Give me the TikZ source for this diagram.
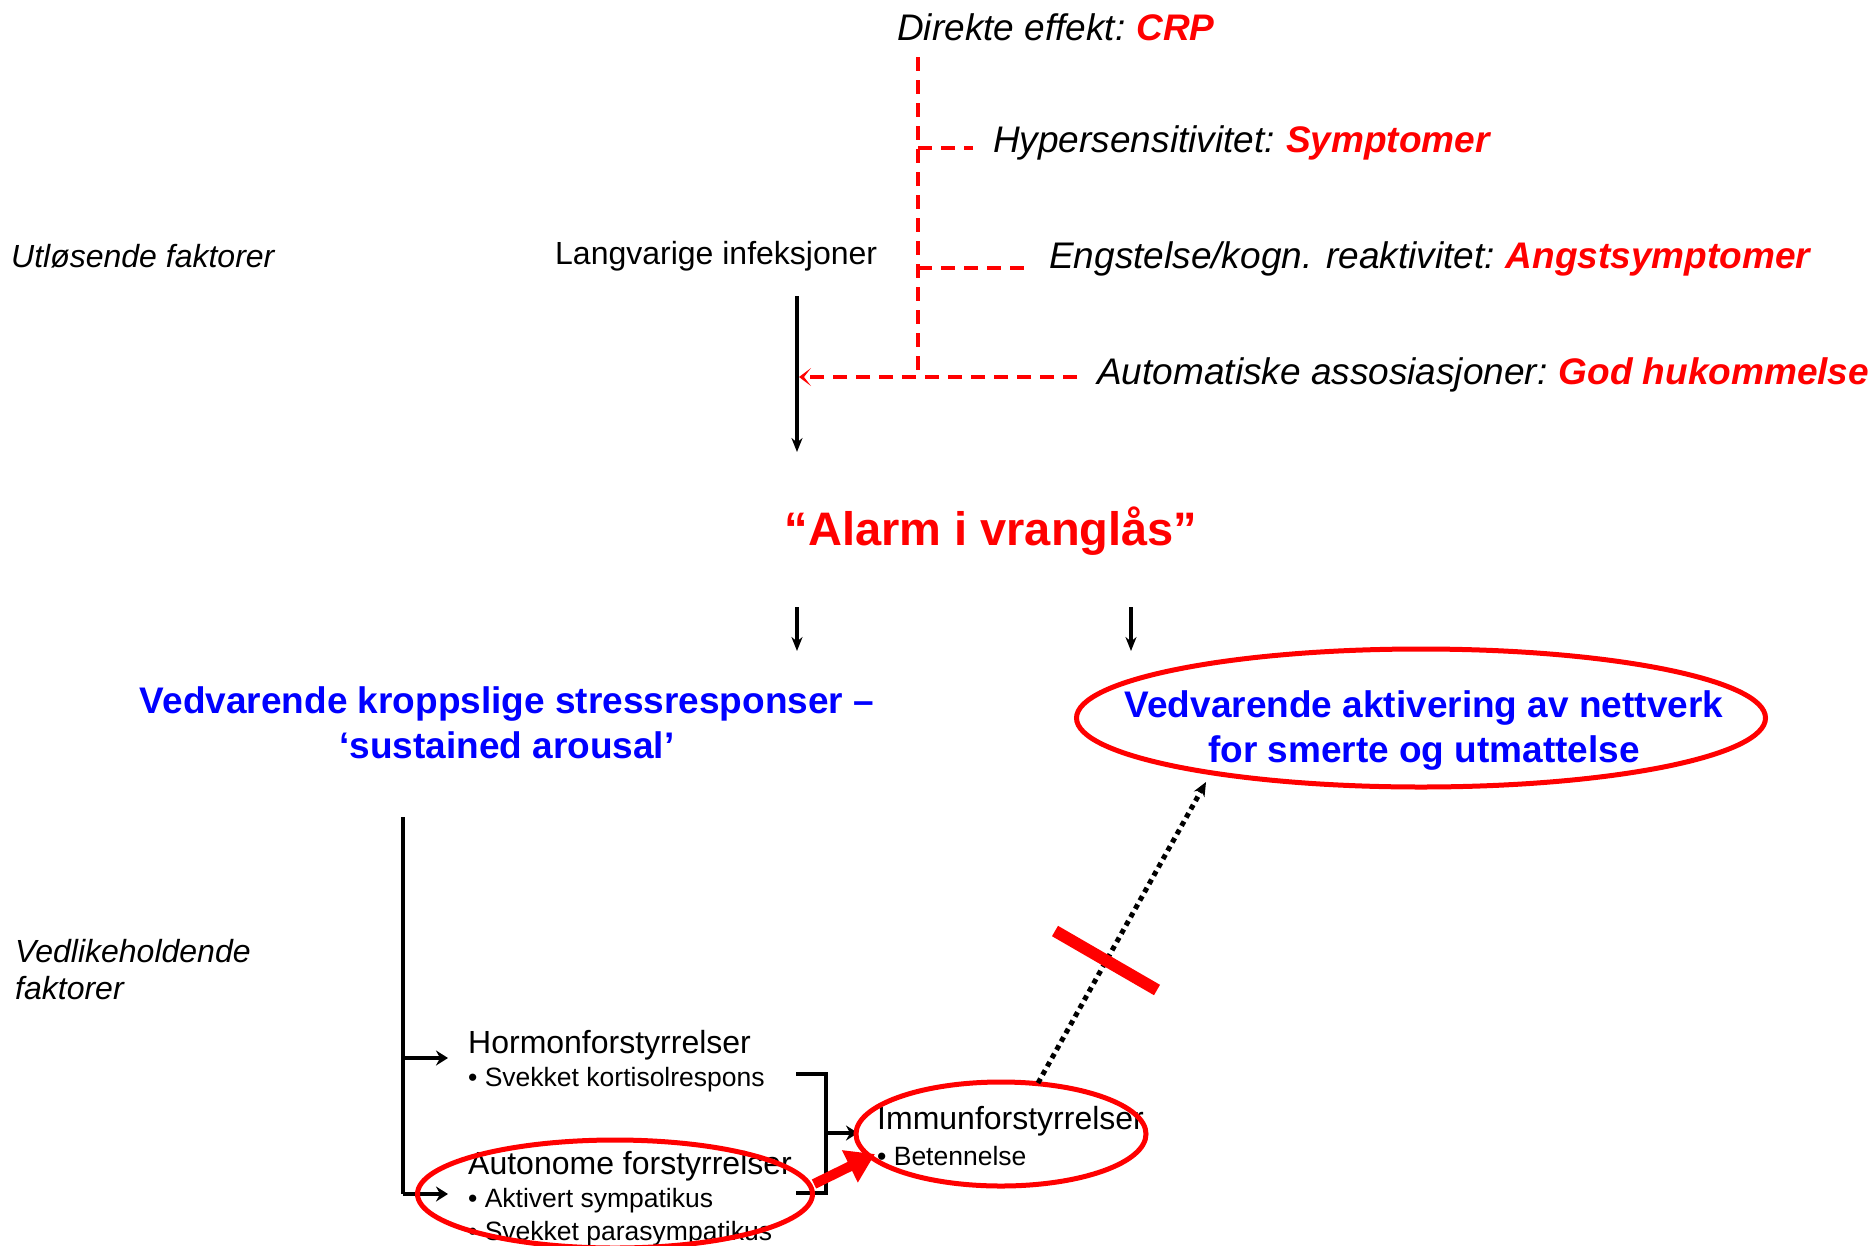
\documentclass[tikz,border=0pt]{standalone}
\usepackage{fontspec}
\setmainfont{Liberation Sans}
\usetikzlibrary{arrows.meta,shapes.geometric}
\definecolor{rd}{RGB}{255,0,0}
\definecolor{bl}{RGB}{0,0,255}
\begin{document}
\begin{tikzpicture}[x=1pt,y=-1pt,
  lbl/.style={inner sep=0pt,anchor=west,font=\fontsize{32}{38}\selectfont},
  toplbl/.style={inner sep=0pt,anchor=west,font=\fontsize{37}{44}\selectfont\itshape},
  sublbl/.style={inner sep=0pt,anchor=west,font=\fontsize{26.5}{32}\selectfont},
  head/.style={inner sep=0pt,align=center,font=\fontsize{37}{45}\selectfont\bfseries,text=bl},
  reddash/.style={draw=rd,line width=3.5pt,dash pattern=on 14pt off 9pt},
  blk/.style={draw=black,line width=3.8pt},
  blkarrow/.style={blk,-{Stealth[length=14pt,width=11pt]}},
  brarrow/.style={blk,-{Stealth[length=12pt,width=15pt,inset=4pt]}},
  redell/.style={draw=rd,line width=5pt,ellipse,inner sep=0pt}
]
\useasboundingbox (0,0) rectangle (1876,1245);

% top red labels
\node[toplbl] (crp) at (897,27) {Direkte effekt:\hspace{0.3em}\textcolor{rd}{\bfseries CRP}};
\node[toplbl] (hyp) at (993,143) {Hypersensitivitet:\hspace{0.3em}\textcolor{rd}{\bfseries Symptomer}};
\node[toplbl] (eng) at (1049,259) {Engstelse/kogn. reaktivitet:\hspace{0.3em}\textcolor{rd}{\bfseries Angstsymptomer}};
\node[toplbl] (aut) at (1097,375) {Automatiske assosiasjoner:\hspace{0.3em}\textcolor{rd}{\bfseries God hukommelse}};

\coordinate (dtop) at (918,57);
\coordinate (dbot) at (918,377);
\coordinate (dh1) at (918,148);
\coordinate (dh1e) at (973,148);
\coordinate (dh2) at (918,268);
\coordinate (dh2e) at (1024,268);
\coordinate (dh3e) at (1077,377);
\draw[reddash] (dtop) -- (dbot);
\draw[reddash] (dh1) -- (dh1e);
\draw[reddash] (dh2) -- (dh2e);

% left labels
\node[lbl,font=\fontsize{32}{38}\selectfont\itshape] (utl) at (11,256) {Utløsende faktorer};
\node[lbl] (lang) at (555,256) {Langvarige infeksjoner};
\node[lbl,font=\fontsize{32}{38}\selectfont\itshape,align=left,anchor=north west] (vedl) at (15,939) {Vedlikeholdende\\[-1pt]faktorer};

% main arrow
\coordinate (a1s) at (797,296);
\coordinate (a1e) at (797,452);
\draw[blkarrow] (a1s) -- (a1e);
\coordinate (a1m) at (799,377);
\draw[reddash,-{Stealth[length=12pt,width=18pt,inset=7pt]}] (dh3e) -- (a1m);

% alarm
\node[inner sep=0pt,font=\fontsize{47}{56}\selectfont\bfseries,text=rd] (alarm) at (991,531) {“Alarm i vranglås”};

\coordinate (d1s) at (797,607);
\coordinate (d1e) at (797,651);
\coordinate (d2s) at (1131,607);
\coordinate (d2e) at (1131,651);
\draw[blkarrow] (d1s) -- (d1e);
\draw[blkarrow] (d2s) -- (d2e);

% blue headings
\node[head] (stress) at (507,723) {Vedvarende kroppslige stressresponser –\\‘sustained arousal’};
\node[head] (nett) at (1424,731) {Vedvarende aktivering av nettverk\\for smerte og utmattelse};
\node[redell,minimum width=689pt,minimum height=138pt] (nettell) at (1421,718) {};

% left bracket
\coordinate (lb1) at (403,817);
\coordinate (lb2) at (403,1058);
\coordinate (lb3) at (403,1194);
\coordinate (lb2e) at (448,1058);
\coordinate (lb3e) at (448,1194);
\draw[blk] (lb1) -- (lb3);
\draw[brarrow] (lb2) -- (lb2e);
\draw[brarrow] (lb3) -- (lb3e);

% sub texts
\node[lbl] (horm) at (468,1045) {Hormonforstyrrelser};
\node[sublbl] (kort) at (468,1080) {• Svekket kortisolrespons};
\node[lbl] (auto) at (468,1166) {Autonome forstyrrelser};
\node[sublbl] (symp) at (468,1201) {• Aktivert sympatikus};
\node[sublbl] (para) at (468,1234) {• Svekket parasympatikus};
\node[lbl] (imm) at (877,1121) {Immunforstyrrelser};
\node[sublbl] (bet) at (877,1156) {• Betennelse};

% right bracket
\coordinate (rb1) at (796,1074);
\coordinate (rb2) at (826,1074);
\coordinate (rb3) at (826,1193);
\coordinate (rb4) at (796,1193);
\coordinate (rbm) at (826,1133);
\coordinate (rbme) at (858,1133);
\draw[blk] (rb1) -- (rb2) -- (rb3) -- (rb4);
\draw[brarrow] (rbm) -- (rbme);

% red ellipses
\node[redell,minimum width=395pt,minimum height=108pt] (autoell) at (615,1194) {};
\node[redell,minimum width=290pt,minimum height=104pt] (immell) at (1001,1134) {};

% thick red arrow
\coordinate (ra1) at (814,1184);
\coordinate (ra2) at (875,1154);
\draw[draw=rd,line width=10pt,-{Triangle[length=28pt,width=34pt]}] (ra1) -- (ra2);

% dotted arrow
\coordinate (ds) at (1038,1083);
\coordinate (de) at (1206,782);
\draw[line width=5pt,dash pattern=on 5pt off 4.5pt,-{Stealth[length=14pt,width=12pt]}] (ds) -- (de);

% red block bar
\coordinate (bar1) at (1055,931);
\coordinate (bar2) at (1157,990);
\draw[draw=rd,line width=12pt] (bar1) -- (bar2);
\end{tikzpicture}
\end{document}
